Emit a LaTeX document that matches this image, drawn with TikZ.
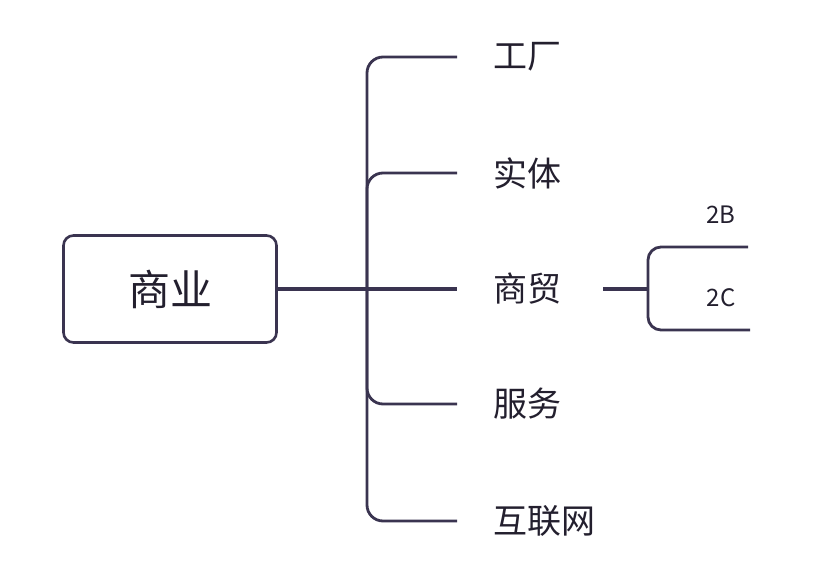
\documentclass[tikz,border=0pt]{standalone}
\usepackage{fontspec}
\setmainfont{Noto Sans CJK SC}
\definecolor{trait}{HTML}{3A3450}
\definecolor{encre}{HTML}{231F2E}

\begin{document}
\begin{tikzpicture}[x=1pt, y=-1pt]
\tikzset{racine/.style={draw=trait, line width=2.6pt, rounded corners=10pt, minimum width=213pt, minimum height=107pt, font=\fontsize{42}{42}\selectfont, text=encre},
feuille/.style={anchor=west, inner xsep=36pt, inner ysep=0pt, font=\fontsize{34}{34}\selectfont, text=encre},
petit/.style={inner sep=0pt, font=\fontsize{24}{24}\selectfont, text=encre},
lien/.style={draw=trait, line width=2.8pt, rounded corners=16pt},
droit/.style={draw=trait, line width=3.2pt}}
\useasboundingbox (0, 0) rectangle (838, 570);
\node[racine] (R) at (170, 289) {商业};
\coordinate (H) at (367, 289);
\node[feuille] (F1) at (457, 57) {工厂};
\node[feuille] (F2) at (457, 173) {实体};
\node[feuille] (F3) at (457, 289) {商贸};
\node[feuille] (F4) at (457, 404) {服务};
\node[feuille] (F5) at (457, 521) {互联网};
\draw[droit, line width=3.8pt] (R.east) -- (H);
\draw[droit] (H) -- (F3.west);
\draw[lien] (H) |- (F1.west);
\draw[lien] (H) |- (F2.west);
\draw[lien] (H) |- (F4.west);
\draw[lien] (H) |- (F5.west);
\coordinate (S) at (648, 289);
\coordinate (B) at (748, 247);
\coordinate (C) at (750, 330);
\node[petit] (T1) at (721, 215) {2B};
\node[petit] (T2) at (721, 298) {2C};
\draw[droit] ([xshift=6pt]F3.east) -- (S);
\draw[lien, rounded corners=13pt] (S) |- (B);
\draw[lien, rounded corners=13pt] (S) |- (C);
\end{tikzpicture}
\end{document}
